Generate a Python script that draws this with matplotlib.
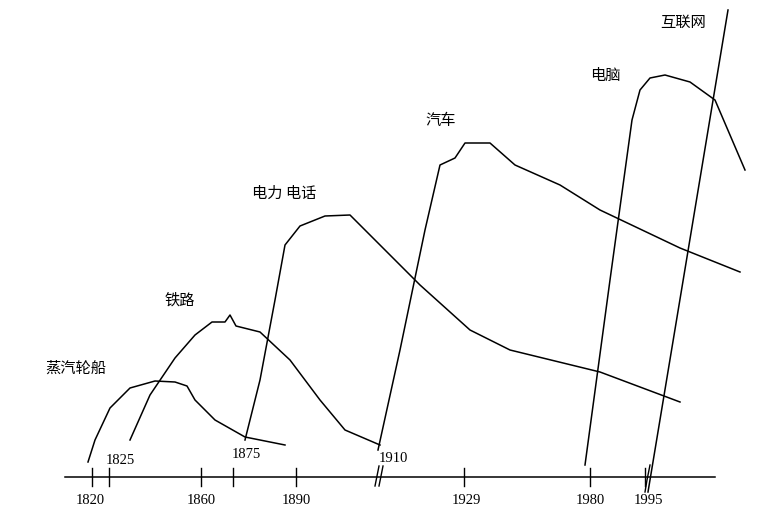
import matplotlib.pyplot as plt

plt.rcParams['font.family'] = ['Noto Sans CJK SC', 'DejaVu Sans']

# schematic curves, drawn in image-like coordinates (x right, y down)
steam_x = [88, 95, 110, 130, 155, 175, 187, 195, 215, 245, 285]
steam_y = [462, 440, 408, 388, 381, 382, 386, 400, 420, 437, 445]
rail_x = [130, 150, 175, 195, 212, 225, 230, 236, 260, 290, 320, 345, 380]
rail_y = [440, 395, 358, 335, 322, 322, 315, 326, 332, 360, 400, 430, 445]
power_x = [245, 260, 275, 285, 300, 325, 350, 375, 420, 470, 510, 600, 680]
power_y = [440, 380, 300, 245, 226, 216, 215, 240, 285, 330, 350, 372, 402]
car_x = [378, 400, 425, 440, 455, 465, 490, 515, 560, 600, 680, 740]
car_y = [450, 350, 230, 165, 158, 143, 143, 165, 185, 210, 248, 272]
pc_x = [585, 610, 632, 640, 650, 665, 690, 715, 730, 745]
pc_y = [465, 280, 120, 90, 78, 75, 82, 100, 135, 170]
net_x = [648, 728]
net_y = [492, 10]

labels = ['蒸汽轮船', '铁路', '电力 电话', '汽车', '电脑', '互联网']
label_x = [45, 165, 252, 425, 590, 660]
label_y = [368, 300, 193, 120, 75, 22]

tick_x = [92, 109, 201, 233, 296, 464, 590, 645]
below_labels = ['1820', '1860', '1890', '1929', '1980', '1995']
below_x = [90, 201, 296, 466, 590, 648]
above_labels = ['1825', '1875', '1910']
above_x = [120, 246, 393]
above_y = [461, 454, 459]

fig = plt.figure(figsize=(7.8, 5.11), dpi=100)
ax = fig.add_axes([0, 0, 1, 1])
ax.set_xlim(0, 780)
ax.set_ylim(511, 0)
ax.axis('off')

for xs, ys in [(steam_x, steam_y), (rail_x, rail_y), (power_x, power_y),
               (car_x, car_y), (pc_x, pc_y), (net_x, net_y)]:
    ax.plot(xs, ys, color='black', lw=1.1)
ax.plot([650, 647, 645], [465, 480, 492], color='black', lw=1.0)

# time axis
ax.plot([65, 715], [477, 477], color='black', lw=1.1)
for t in tick_x:
    ax.plot([t, t], [468, 486], color='black', lw=1.0)
ax.plot([375, 379], [486, 466], color='black', lw=1.0)
ax.plot([379, 383], [486, 466], color='black', lw=1.0)

for s, x in zip(below_labels, below_x):
    ax.text(x, 500, s, ha='center', va='center', fontsize=10.5, family='Liberation Serif')
for s, x, y in zip(above_labels, above_x, above_y):
    ax.text(x, y, s, ha='center', va='center', fontsize=10.5, family='Liberation Serif')
for s, x, y in zip(labels, label_x, label_y):
    ax.text(x, y, s, ha='left', va='center', fontsize=11)

fig.savefig('out.png', dpi=100)
